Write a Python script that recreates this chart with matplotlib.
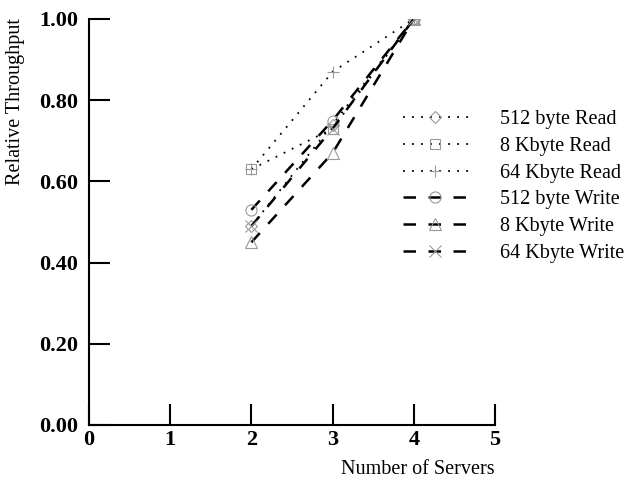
import matplotlib.pyplot as plt

servers = [2, 3, 4]
read_512 = [0.49, 0.74, 1.00]
read_8k = [0.63, 0.73, 1.00]
read_64k = [0.63, 0.87, 1.00]
write_512 = [0.53, 0.75, 1.00]
write_8k = [0.45, 0.67, 1.00]
write_64k = [0.49, 0.73, 1.00]

labels = ['512 byte Read', '8 Kbyte Read', '64 Kbyte Read',
          '512 byte Write', '8 Kbyte Write', '64 Kbyte Write']
markers = ['D', 's', '+', 'o', '^', 'x']
msizes = [6, 7, 9, 8, 8, 8]
series = [read_512, read_8k, read_64k, write_512, write_8k, write_64k]
yticks = [0, 0.2, 0.4, 0.6, 0.8, 1.0]

plt.rcParams['font.family'] = 'Liberation Serif'

fig = plt.figure(figsize=(6.28, 4.8), dpi=100)
ax = fig.add_axes([89 / 628, 1 - 425 / 480, 406 / 628, 406 / 480])

for i, (vals, lab, m, ms) in enumerate(zip(series, labels, markers, msizes)):
    if i < 3:
        ls = (0, (1, 4))
        lw = 1.3
    else:
        ls = (0, (5, 5))
        lw = 1.8
    ax.plot(servers, vals, linestyle=ls, color='black', lw=lw, label=lab,
            marker=m, markersize=ms, markerfacecolor='none',
            markeredgecolor='#999999', markeredgewidth=0.8)

ax.set_xlim(0, 5)
ax.set_ylim(0, 1)
ax.set_xticks([0, 1, 2, 3, 4, 5])
ax.set_yticks(yticks)
ax.set_yticks(yticks, minor=True)
ax.set_yticklabels(['%.2f' % v for v in yticks])
for s in ['top', 'right']:
    ax.spines[s].set_visible(False)
for s in ['left', 'bottom']:
    ax.spines[s].set_linewidth(1.5)
ax.tick_params(axis='both', which='major', direction='in', length=15,
               width=1.5, labelsize=16)
ax.tick_params(axis='y', which='major', pad=8)
ax.tick_params(axis='y', which='minor', direction='out', length=3, width=1.5)
for t in ax.get_xticklabels() + ax.get_yticklabels():
    t.set_fontweight('bold')

fig.text(495 / 628, 1 - 470 / 480, 'Number of Servers', ha='right',
         va='center', fontsize=14.5)
fig.text(16 / 628, 1 - 18 / 480, 'Relative Throughput', rotation=90,
         ha='center', va='top', fontsize=14.5)

ax.legend(loc='upper left', bbox_to_anchor=(385 / 628, 1 - 92 / 480),
          bbox_transform=fig.transFigure, frameon=False, fontsize=14.5,
          handlelength=3.2, handletextpad=1.6, labelspacing=0.38)

fig.savefig('out.png', dpi=100)
